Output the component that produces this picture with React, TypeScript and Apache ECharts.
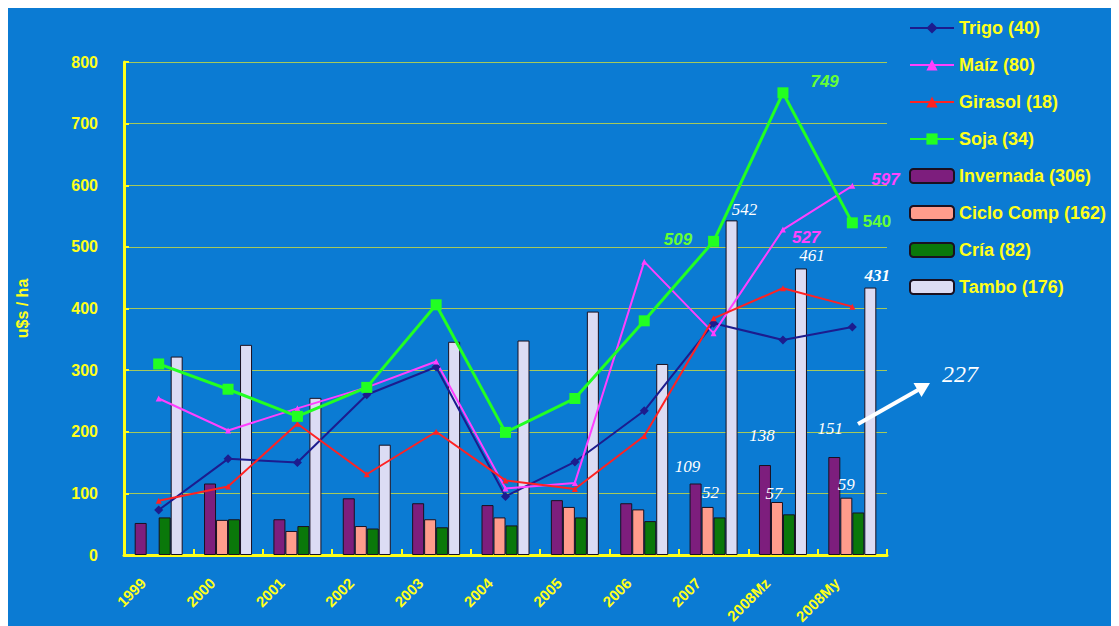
import { useEffect, useRef } from 'react';
import * as echarts from 'echarts';

const categories = ['1999', '2000', '2001', '2002', '2003', '2004', '2005', '2006', '2007', '2008Mz', '2008My'];
const trigo = [73, 156, 150, 260, 305, 95, 151, 234, 376, 349, 370];
const maiz = [254, 202, 238, 272, 314, 108, 117, 476, 360, 528, 599];
const girasol = [88, 111, 213, 131, 200, 121, 107, 193, 384, 433, 403];
const soja = [310, 269, 225, 272, 406, 199, 254, 380, 509, 750, 539];
const invernada = [52, 116, 58, 92, 84, 81, 89, 84, 116, 146, 159];
const ciclo = [null, 57, 39, 47, 58, 61, 78, 74, 78, 86, 93];
const cria = [61, 58, 47, 43, 45, 48, 61, 55, 61, 66, 69];
const tambo = [322, 341, 255, 179, 346, 348, 395, 310, 543, 465, 434];
const yTicks = [0, 100, 200, 300, 400, 500, 600, 700, 800];

// annotation texts (as printed on the chart)
const sojaNotes = [null, null, null, null, null, null, null, null, '509', '749', '540'];
const maizNotes = [null, null, null, null, null, null, null, null, null, '527', '597'];
const invernadaNotes = [null, null, null, null, null, null, null, null, '109', '138', '151'];
const cicloNotes = [null, null, null, null, null, null, null, null, '52', '57', '59'];
const tamboNotes = [null, null, null, null, null, null, null, null, '542', '461', '431'];
const extraNote = '227';

const YELLOW = '#FFFF1A';
const SANS = 'Arial, "Liberation Sans", sans-serif';
const SERIF = '"Liberation Serif", "Times New Roman", serif';

const whiteNote = {
  color: '#FFFFFF',
  fontFamily: SERIF,
  fontStyle: 'italic',
  fontSize: 17,
};

function withNotes(values, notes, labelFor) {
  return values.map((v, i) => {
    const n = notes[i];
    if (n == null) return v;
    return { value: v, label: { show: true, formatter: n, ...labelFor(i) } };
  });
}

export default function App() {
  const ref = useRef(null);
  useEffect(() => {
    document.documentElement.style.overflow = 'hidden';
    const chart = echarts.init(ref.current, null, { renderer: 'svg' });

    const sojaPos = {
      8: { position: 'left', distance: 16, offset: [0, -2], fontStyle: 'italic' },
      9: { position: 'right', distance: 22, offset: [0, -11], fontStyle: 'italic' },
      10: { position: 'right', distance: 5, offset: [0, -1], fontStyle: 'normal' },
    };
    const maizPos = {
      9: { position: 'right', distance: 6, offset: [0, 8] },
      10: { position: 'right', distance: 16, offset: [0, -6] },
    };
    const invPos = { 8: [-8, -4], 9: [-3, -16], 10: [-4, -15] };
    const cicloPos = { 8: [3, -1], 9: [-3, 5], 10: [0, 0] };
    const tamboPos = { 8: [13, 3], 9: [11, 1], 10: [7, 1] };

    const lineBase = (name, data, color, symbol, size, width) => ({
      name,
      type: 'line',
      data,
      z: 5,
      symbol,
      symbolSize: size,
      showSymbol: true,
      lineStyle: { color, width },
      itemStyle: { color, borderWidth: 0 },
    });
    const barBase = (name, data, color) => ({
      name,
      type: 'bar',
      data,
      barWidth: 12,
      barGap: '0%',
      z: 2,
      itemStyle: { color, borderColor: '#1a1020', borderWidth: 1 },
    });

    chart.setOption({
      animation: false,
      backgroundColor: '#0B7BD3',
      textStyle: { fontFamily: SANS },
      grid: { left: 116, right: 232, top: 54, bottom: 71, containLabel: false, outerBoundsMode: 'none' },
      legend: {
        orient: 'vertical',
        left: 896,
        top: 6,
        itemWidth: 44,
        itemHeight: 14,
        itemGap: 19,
        textStyle: { color: YELLOW, fontWeight: 'bold', fontSize: 18, fontFamily: SANS, lineHeight: 18 },
        data: ['Trigo (40)', 'Maíz (80)', 'Girasol (18)', 'Soja (34)', 'Invernada (306)', 'Ciclo Comp (162)', 'Cría (82)', 'Tambo (176)'],
      },
      xAxis: {
        type: 'category',
        data: categories,
        axisLine: { lineStyle: { color: YELLOW, width: 3 } },
        axisTick: { show: true, inside: true, length: 6, lineStyle: { color: YELLOW, width: 2 } },
        axisLabel: {
          color: YELLOW,
          fontWeight: 'bold',
          fontSize: 15,
          fontFamily: SANS,
          rotate: 45,
          margin: 10,
          padding: [0, 22, 0, 0],
          interval: 0,
        },
        splitLine: { show: false },
      },
      yAxis: {
        type: 'value',
        min: yTicks[0],
        max: yTicks[yTicks.length - 1],
        interval: 100,
        name: 'u$s / ha',
        nameLocation: 'middle',
        nameGap: 94,
        nameTextStyle: { color: YELLOW, fontWeight: 'bold', fontSize: 16, fontFamily: SANS },
        axisLine: { show: true, lineStyle: { color: YELLOW, width: 3 } },
        axisTick: { show: true, inside: true, length: 5, lineStyle: { color: YELLOW, width: 2 } },
        axisLabel: { color: YELLOW, fontWeight: 'bold', fontSize: 16, fontFamily: SANS, margin: 26 },
        splitLine: { show: true, lineStyle: { color: '#A6C95A', width: 1 } },
      },
      series: [
        lineBase('Trigo (40)', trigo, '#1C1C8E', 'diamond', 9, 2),
        lineBase(
          'Maíz (80)',
          withNotes(maiz, maizNotes, (i) => ({
            color: '#FF44FF',
            fontWeight: 'bold',
            fontStyle: 'italic',
            fontSize: 17,
            fontFamily: SANS,
            ...maizPos[i],
          })),
          '#FF40FF',
          'triangle',
          6,
          2
        ),
        lineBase('Girasol (18)', girasol, '#FF2222', 'triangle', 6, 2),
        lineBase(
          'Soja (34)',
          withNotes(soja, sojaNotes, (i) => ({
            color: '#66FF33',
            fontWeight: 'bold',
            fontSize: 17,
            fontFamily: SANS,
            ...sojaPos[i],
          })),
          '#22FF22',
          'rect',
          11,
          3
        ),
        barBase(
          'Invernada (306)',
          withNotes(invernada, invernadaNotes, (i) => ({ position: 'top', offset: invPos[i], ...whiteNote })),
          '#7D1E7D'
        ),
        barBase(
          'Ciclo Comp (162)',
          withNotes(ciclo, cicloNotes, (i) => ({ position: 'top', offset: cicloPos[i], ...whiteNote })),
          '#FF9C8C'
        ),
        barBase('Cría (82)', cria, '#0A780A'),
        barBase(
          'Tambo (176)',
          withNotes(tambo, tamboNotes, (i) => ({
            position: 'top',
            offset: tamboPos[i],
            ...whiteNote,
            fontWeight: i === 10 ? 'bold' : 'normal',
          })),
          '#DCDCF4'
        ),
      ],
      graphic: [
        {
          type: 'line',
          shape: { x1: 850, y1: 416, x2: 910, y2: 382 },
          style: { stroke: '#FFFFFF', lineWidth: 4 },
          z: 10,
        },
        {
          type: 'polygon',
          shape: { points: [[922, 375], [913.5, 389], [905.5, 375]] },
          style: { fill: '#FFFFFF' },
          z: 10,
        },
        {
          type: 'text',
          left: 934,
          top: 354,
          style: { text: extraNote, fill: '#FFFFFF', font: 'italic 24px "Liberation Serif", "Times New Roman", serif' },
          z: 10,
        },
      ],
    });
    return () => chart.dispose();
  }, []);
  return <div ref={ref} style={{ width: 1111, height: 618, background: '#0B7BD3' }} />;
}
